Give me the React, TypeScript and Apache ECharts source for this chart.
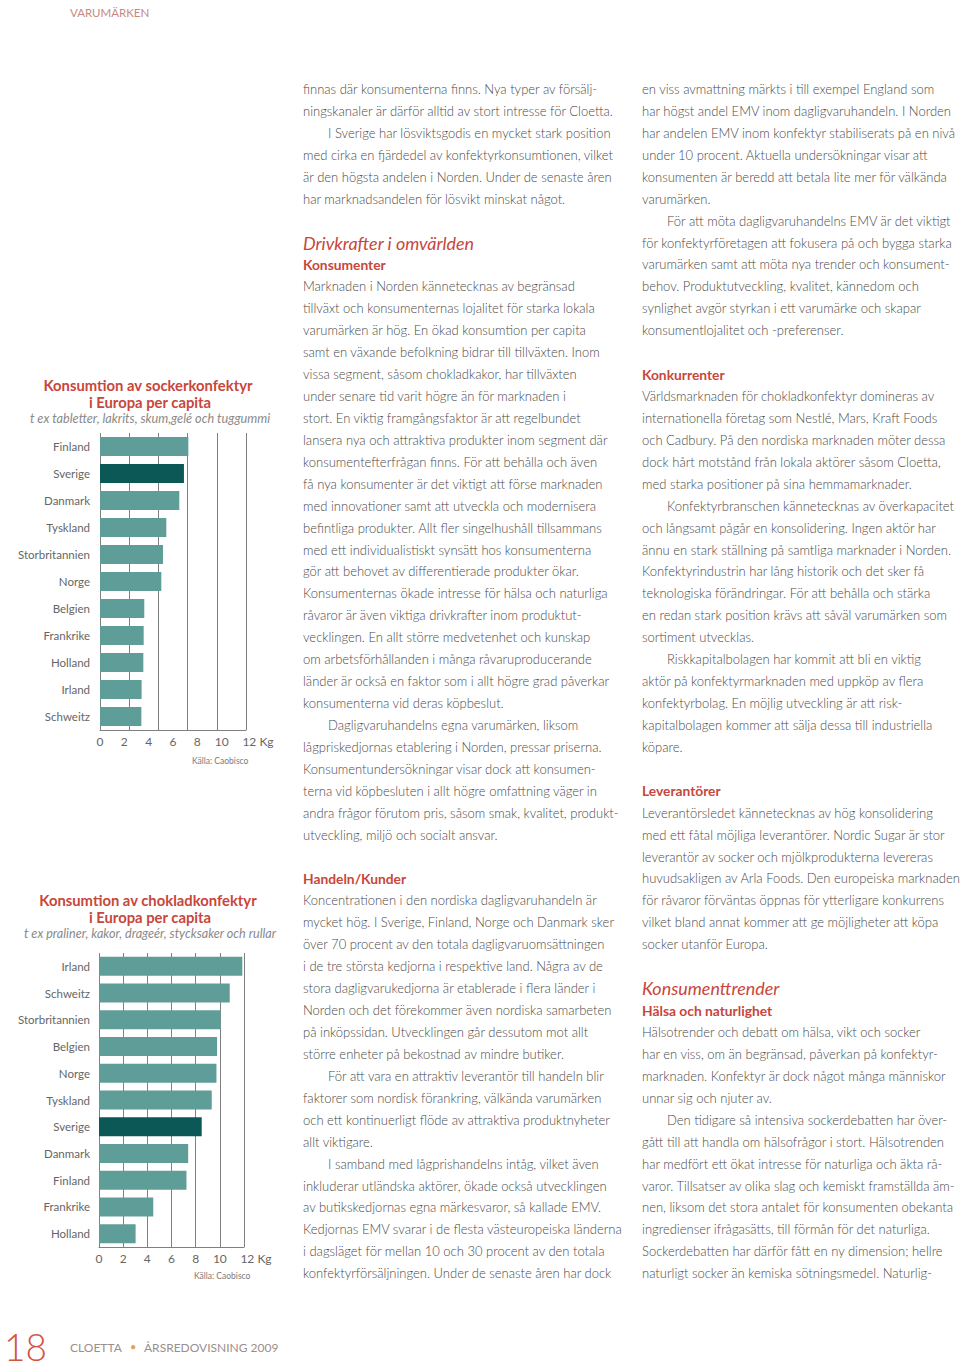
import React, { useEffect, useRef } from "react";
import * as echarts from "echarts";

// ---------- chart data ----------
const SUGAR_COUNTRIES = ["Finland", "Sverige", "Danmark", "Tyskland", "Storbritannien", "Norge", "Belgien", "Frankrike", "Holland", "Irland", "Schweitz"];
const SUGAR_KG = [7.26, 6.9, 6.52, 5.45, 5.18, 5.04, 3.64, 3.59, 3.56, 3.42, 3.4];
const CHOC_COUNTRIES = ["Irland", "Schweitz", "Storbritannien", "Belgien", "Norge", "Tyskland", "Sverige", "Danmark", "Finland", "Frankrike", "Holland"];
const CHOC_KG = [11.86, 10.82, 10.07, 9.77, 9.72, 9.33, 8.5, 7.38, 7.24, 4.49, 3.03];
const HIGHLIGHT = "Sverige";

const SUGAR_TITLE = ["Konsumtion av sockerkonfektyr", "i Europa per capita"];
const SUGAR_SUB = "t ex tabletter, lakrits, skum,gelé och tuggummi";
const CHOC_TITLE = ["Konsumtion av chokladkonfektyr", "i Europa per capita"];
const CHOC_SUB = "t ex praliner, kakor, drageér, stycksaker och rullar";
const SOURCE = "Källa: Caobisco";

// ---------- page text (line index, kind, text) ----------
type Line = [number, string, string];
const COL1: Line[] = [
  [0, "b", "finnas där konsumenterna finns. Nya typer av försälj-"],
  [1, "b", "ningskanaler är därför alltid av stort intresse för Cloetta."],
  [2, "i", "I Sverige har lösviktsgodis en mycket stark position"],
  [3, "b", "med cirka en fjärdedel av konfektyrkonsumtionen, vilket"],
  [4, "b", "är den högsta andelen i Norden. Under de senaste åren"],
  [5, "b", "har marknadsandelen för lösvikt minskat något."],
  [7, "h", "Drivkrafter i omvärlden"],
  [8, "s", "Konsumenter"],
  [9, "b", "Marknaden i Norden kännetecknas av begränsad"],
  [10, "b", "tillväxt och konsumenternas lojalitet för starka lokala"],
  [11, "b", "varumärken är hög. En ökad konsumtion per capita"],
  [12, "b", "samt en växande befolkning bidrar till tillväxten. Inom"],
  [13, "b", "vissa segment, såsom chokladkakor, har tillväxten"],
  [14, "b", "under senare tid varit högre än för marknaden i"],
  [15, "b", "stort. En viktig framgångsfaktor är att regelbundet"],
  [16, "b", "lansera nya och attraktiva produkter inom segment där"],
  [17, "b", "konsumentefterfrågan finns. För att behålla och även"],
  [18, "b", "få nya konsumenter är det viktigt att förse marknaden"],
  [19, "b", "med innovationer samt att utveckla och modernisera"],
  [20, "b", "befintliga produkter. Allt fler singelhushåll tillsammans"],
  [21, "b", "med ett individualistiskt synsätt hos konsumenterna"],
  [22, "b", "gör att behovet av differentierade produkter ökar."],
  [23, "b", "Konsumenternas ökade intresse för hälsa och naturliga"],
  [24, "b", "råvaror är även viktiga drivkrafter inom produktut-"],
  [25, "b", "vecklingen. En allt större medvetenhet och kunskap"],
  [26, "b", "om arbetsförhållanden i många råvaruproducerande"],
  [27, "b", "länder är också en faktor som i allt högre grad påverkar"],
  [28, "b", "konsumenterna vid deras köpbeslut."],
  [29, "i", "Dagligvaruhandelns egna varumärken, liksom"],
  [30, "b", "lågpriskedjornas etablering i Norden, pressar priserna."],
  [31, "b", "Konsumentundersökningar visar dock att konsumen-"],
  [32, "b", "terna vid köpbesluten i allt högre omfattning väger in"],
  [33, "b", "andra frågor förutom pris, såsom smak, kvalitet, produkt-"],
  [34, "b", "utveckling, miljö och socialt ansvar."],
  [36, "s", "Handeln/Kunder"],
  [37, "b", "Koncentrationen i den nordiska dagligvaruhandeln är"],
  [38, "b", "mycket hög. I Sverige, Finland, Norge och Danmark sker"],
  [39, "b", "över 70 procent av den totala dagligvaruomsättningen"],
  [40, "b", "i de tre största kedjorna i respektive land. Några av de"],
  [41, "b", "stora dagligvarukedjorna är etablerade i flera länder i"],
  [42, "b", "Norden och det förekommer även nordiska samarbeten"],
  [43, "b", "på inköpssidan. Utvecklingen går dessutom mot allt"],
  [44, "b", "större enheter på bekostnad av mindre butiker."],
  [45, "i", "För att vara en attraktiv leverantör till handeln blir"],
  [46, "b", "faktorer som nordisk förankring, välkända varumärken"],
  [47, "b", "och ett kontinuerligt flöde av attraktiva produktnyheter"],
  [48, "b", "allt viktigare."],
  [49, "i", "I samband med lågprishandelns intåg, vilket även"],
  [50, "b", "inkluderar utländska aktörer, ökade också utvecklingen"],
  [51, "b", "av butikskedjornas egna märkesvaror, så kallade EMV."],
  [52, "b", "Kedjornas EMV svarar i de flesta västeuropeiska länderna"],
  [53, "b", "i dagsläget för mellan 10 och 30 procent av den totala"],
  [54, "b", "konfektyrförsäljningen. Under de senaste åren har dock"],
];
const COL2: Line[] = [
  [0, "b", "en viss avmattning märkts i till exempel England som"],
  [1, "b", "har högst andel EMV inom dagligvaruhandeln. I Norden"],
  [2, "b", "har andelen EMV inom konfektyr stabiliserats på en nivå"],
  [3, "b", "under 10 procent. Aktuella undersökningar visar att"],
  [4, "b", "konsumenten är beredd att betala lite mer för välkända"],
  [5, "b", "varumärken."],
  [6, "i", "För att möta dagligvaruhandelns EMV är det viktigt"],
  [7, "b", "för konfektyrföretagen att fokusera på och bygga starka"],
  [8, "b", "varumärken samt att möta nya trender och konsument-"],
  [9, "b", "behov. Produktutveckling, kvalitet, kännedom och"],
  [10, "b", "synlighet avgör styrkan i ett varumärke och skapar"],
  [11, "b", "konsumentlojalitet och -preferenser."],
  [13, "s", "Konkurrenter"],
  [14, "b", "Världsmarknaden för chokladkonfektyr domineras av"],
  [15, "b", "internationella företag som Nestlé, Mars, Kraft Foods"],
  [16, "b", "och Cadbury. På den nordiska marknaden möter dessa"],
  [17, "b", "dock hårt motstånd från lokala aktörer såsom Cloetta,"],
  [18, "b", "med starka positioner på sina hemmamarknader."],
  [19, "i", "Konfektyrbranschen kännetecknas av överkapacitet"],
  [20, "b", "och långsamt pågår en konsolidering. Ingen aktör har"],
  [21, "b", "ännu en stark ställning på samtliga marknader i Norden."],
  [22, "b", "Konfektyrindustrin har lång historik och det sker få"],
  [23, "b", "teknologiska förändringar. För att behålla och stärka"],
  [24, "b", "en redan stark position krävs att såväl varumärken som"],
  [25, "b", "sortiment utvecklas."],
  [26, "i", "Riskkapitalbolagen har kommit att bli en viktig"],
  [27, "b", "aktör på konfektyrmarknaden med uppköp av flera"],
  [28, "b", "konfektyrbolag. En möjlig utveckling är att risk-"],
  [29, "b", "kapitalbolagen kommer att sälja dessa till industriella"],
  [30, "b", "köpare."],
  [32, "s", "Leverantörer"],
  [33, "b", "Leverantörsledet kännetecknas av hög konsolidering"],
  [34, "b", "med ett fåtal möjliga leverantörer. Nordic Sugar är stor"],
  [35, "b", "leverantör av socker och mjölkprodukterna levereras"],
  [36, "b", "huvudsakligen av Arla Foods. Den europeiska marknaden"],
  [37, "b", "för råvaror förväntas öppnas för ytterligare konkurrens"],
  [38, "b", "vilket bland annat kommer att ge möjligheter att köpa"],
  [39, "b", "socker utanför Europa."],
  [41, "h", "Konsumenttrender"],
  [42, "s", "Hälsa och naturlighet"],
  [43, "b", "Hälsotrender och debatt om hälsa, vikt och socker"],
  [44, "b", "har en viss, om än begränsad, påverkan på konfektyr-"],
  [45, "b", "marknaden. Konfektyr är dock något många människor"],
  [46, "b", "unnar sig och njuter av."],
  [47, "i", "Den tidigare så intensiva sockerdebatten har över-"],
  [48, "b", "gått till att handla om hälsofrågor i stort. Hälsotrenden"],
  [49, "b", "har medfört ett ökat intresse för naturliga och äkta rå-"],
  [50, "b", "varor. Tillsatser av olika slag och kemiskt framställda äm-"],
  [51, "b", "nen, liksom det stora antalet för konsumenten obekanta"],
  [52, "b", "ingredienser ifrågasätts, till förmån för det naturliga."],
  [53, "b", "Sockerdebatten har därför fått en ny dimension; hellre"],
  [54, "b", "naturligt socker än kemiska sötningsmedel. Naturlig-"],
];

const FONT = "Lato, 'Open Sans', sans-serif";
const TEAL = "#5f9d98";
const DARK = "#0b5856";
const RED = "#c8463b";
const GRID_GRAY = "#808080";
const LABEL_GRAY = "#666666";

function fit(text: string, weight: string, style: string, target: number, fallback: number) {
  try {
    const ctx = document.createElement("canvas").getContext("2d");
    if (!ctx) return fallback;
    ctx.font = `${style} ${weight} 100px ${FONT}`;
    const w = ctx.measureText(text).width;
    if (!w) return fallback;
    return Math.round((100 * target / w) * 10) / 10;
  } catch (e) {
    return fallback;
  }
}

export default function App() {
  const ref = useRef<HTMLDivElement>(null);
  useEffect(() => {
    document.body.style.margin = "0";
    const el = ref.current!;
    const chart = echarts.init(el, null, { renderer: "svg" });

    const bodySize = fit("med cirka en fjärdedel av konfektyrkonsumtionen, vilket", "300", "normal", 311, 12);
    const subSize = fit("Konsumenter", "bold", "normal", 83, 12.5);
    const headSize = fit("Drivkrafter i omvärlden", "normal", "italic", 172, 15);
    const t1Size = fit(SUGAR_TITLE[0], "bold", "normal", 209, 13);
    const s1Size = fit(SUGAR_SUB, "normal", "italic", 240, 11);
    const s2Size = fit(CHOC_SUB, "normal", "italic", 252, 11);
    const catSize = fit("Storbritannien", "300", "normal", 70, 12);

    const LINE0 = 89;
    const PITCH = 21.93;
    const textEls: any[] = [];
    const addCol = (lines: Line[], x0: number) => {
      lines.forEach(([i, kind, text]) => {
        const y = LINE0 + PITCH * i;
        let style: any = { text, fill: "#4a4a4a", fontFamily: FONT, fontSize: bodySize, fontWeight: 300, verticalAlign: "middle", align: "left" };
        let x = x0;
        if (kind === "i") x = x0 + 25;
        if (kind === "s") style = { ...style, fill: RED, fontWeight: "bold", fontSize: subSize };
        if (kind === "h") style = { ...style, fill: RED, fontWeight: "normal", fontStyle: "italic", fontSize: headSize };
        textEls.push({ type: "text", x, y, silent: true, style });
      });
    };
    addCol(COL1, 303);
    addCol(COL2, 642);

    const titleEls = (lines: string[], sub: string, subSize: number, y0: number) => [
      { type: "text", x: 148, y: y0, style: { text: lines[0], fill: RED, fontFamily: FONT, fontWeight: "bold", fontSize: t1Size, align: "center", verticalAlign: "middle" } },
      { type: "text", x: 150, y: y0 + 17, style: { text: lines[1], fill: RED, fontFamily: FONT, fontWeight: "bold", fontSize: t1Size, align: "center", verticalAlign: "middle" } },
      { type: "text", x: 150, y: y0 + 33, style: { text: sub, fill: "#8a8a8a", fontFamily: FONT, fontStyle: "italic", fontSize: subSize, align: "center", verticalAlign: "middle" } },
    ];

    const barData = (names: string[], vals: number[]) =>
      vals.map((v, i) => ({ value: v, itemStyle: { color: names[i] === HIGHLIGHT ? DARK : TEAL } }));

    const kgFormatter = (v: number) => (v === 12 ? "{k|12 Kg}" : String(v));
    const tickLabel = {
      color: LABEL_GRAY, fontFamily: FONT, fontSize: 12, margin: 5,
      formatter: kgFormatter,
      rich: { k: { color: LABEL_GRAY, fontFamily: FONT, fontSize: 12, padding: [0, 0, 0, 24] } },
    };

    const option: any = {
      animation: false,
      backgroundColor: "#ffffff",
      grid: [
        { left: 100, top: 433, width: 146, height: 297 },
        { left: 99, top: 953, width: 145, height: 294 },
      ],
      xAxis: [
        {
          gridIndex: 0, type: "value", min: 0, max: 12, interval: 2.4,
          axisLine: { show: true, lineStyle: { color: GRID_GRAY, width: 1 } },
          axisTick: { show: false }, axisLabel: { show: false },
          splitLine: { show: true, lineStyle: { color: GRID_GRAY, width: 1 } },
        },
        {
          gridIndex: 0, type: "value", min: 0, max: 12, interval: 2, position: "bottom",
          axisLine: { show: false }, axisTick: { show: false }, splitLine: { show: false },
          axisLabel: tickLabel,
        },
        {
          gridIndex: 1, type: "value", min: 0, max: 12, interval: 2,
          axisLine: { show: true, lineStyle: { color: GRID_GRAY, width: 1 } },
          axisTick: { show: false },
          splitLine: { show: true, lineStyle: { color: GRID_GRAY, width: 1 } },
          axisLabel: tickLabel,
        },
      ],
      yAxis: [
        {
          gridIndex: 0, type: "category", data: SUGAR_COUNTRIES, inverse: true,
          axisLine: { show: false }, axisTick: { show: false },
          axisLabel: { color: LABEL_GRAY, fontFamily: FONT, fontSize: catSize, margin: 10 },
        },
        {
          gridIndex: 1, type: "category", data: CHOC_COUNTRIES, inverse: true,
          axisLine: { show: false }, axisTick: { show: false },
          axisLabel: { color: LABEL_GRAY, fontFamily: FONT, fontSize: catSize, margin: 9 },
        },
      ],
      series: [
        { type: "bar", xAxisIndex: 0, yAxisIndex: 0, data: barData(SUGAR_COUNTRIES, SUGAR_KG), barWidth: 19, silent: true },
        { type: "bar", xAxisIndex: 2, yAxisIndex: 1, data: barData(CHOC_COUNTRIES, CHOC_KG), barWidth: 19, silent: true },
      ],
      graphic: [
        { type: "text", x: 70, y: 12, style: { text: "VARUMÄRKEN", fill: "#c48a82", fontFamily: FONT, fontSize: 11.5, verticalAlign: "middle" } },
        ...titleEls(SUGAR_TITLE, SUGAR_SUB, s1Size, 385),
        ...titleEls(CHOC_TITLE, CHOC_SUB, s2Size, 900),
        { type: "text", x: 192, y: 761, style: { text: SOURCE, fill: "#7a7a7a", fontFamily: FONT, fontSize: 8.5, verticalAlign: "middle" } },
        { type: "text", x: 194, y: 1276, style: { text: SOURCE, fill: "#7a7a7a", fontFamily: FONT, fontSize: 8.5, verticalAlign: "middle" } },
        ...textEls,
        { type: "text", x: 4, y: 1346, style: { text: "18", fill: "#d2533f", fontFamily: FONT, fontWeight: 300, fontSize: 37, verticalAlign: "middle" } },
        { type: "text", x: 70, y: 1347, style: { text: "CLOETTA", fill: "#9a8f8c", fontFamily: FONT, fontSize: 12, verticalAlign: "middle" } },
        { type: "text", x: 130, y: 1346, style: { text: "•", fill: "#e8a050", fontFamily: FONT, fontSize: 11, verticalAlign: "middle" } },
        { type: "text", x: 144, y: 1347, style: { text: "ÅRSREDOVISNING 2009", fill: "#9a8f8c", fontFamily: FONT, fontSize: 12, verticalAlign: "middle" } },
      ],
    };
    chart.setOption(option);
    return () => chart.dispose();
  }, []);

  return <div ref={ref} style={{ position: "absolute", left: 0, top: 0, width: 960, height: 1368, background: "#fff" }} />;
}
